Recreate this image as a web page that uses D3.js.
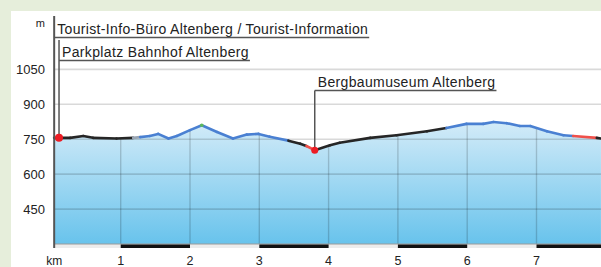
<!DOCTYPE html>
<html>
<head>
<meta charset="utf-8">
<script src="https://cdn.jsdelivr.net/npm/d3@7"></script>
<style>
	body { margin: 0; background: #e6eedb; }
	svg { display: block; }
	text { font-family: "Liberation Sans", Arial, sans-serif; fill: #222; }
</style>
</head>
<body>
<script>
// elevation profile, km along the route and metres above sea level
let profileKm = [0.04, 0.27, 0.46, 0.60, 0.94, 1.18, 1.28, 1.42, 1.54, 1.69, 1.81, 2.00, 2.17, 2.39,
	2.62, 2.82, 2.99, 3.15, 3.42, 3.59, 3.68, 3.80, 4.02, 4.16, 4.60, 4.98, 5.42, 5.70, 5.99,
	6.23, 6.38, 6.57, 6.76, 6.91, 7.15, 7.39, 7.53, 7.87, 7.93]
let profileElev = [756, 756, 764, 756, 753, 756, 759, 764, 773, 753, 764, 789, 810, 781,
	753, 770, 773, 761, 744, 731, 721, 703, 724, 735, 756, 767, 784, 798, 816,
	816, 824, 819, 807, 807, 784, 767, 764, 756, 753]
// gradient class of each segment between two profile points
let segmentClass = [
	'flat', 'flat', 'flat', 'flat', 'flat', 'mild',
	'mid', 'mid', 'mid', 'mid', 'mid', 'mid', 'mid', 'mid', 'mid', 'mid', 'mid', 'mid',
	'flat', 'flat', 'steep',
	'flat', 'flat', 'flat', 'flat', 'flat', 'flat',
	'mid', 'mid', 'mid', 'mid', 'mid', 'mid', 'mid', 'mid', 'mid',
	'steep', 'flat']

let waypointNames = ['Tourist-Info-Büro Altenberg / Tourist-Information', 'Parkplatz Bahnhof Altenberg', 'Bergbaumuseum Altenberg']
let waypointKm = [0.04, 0.11, 3.80]
let waypointElev = [756, 756, 703]

let yTicks = [450, 600, 750, 900, 1050]
let xTicks = [1, 2, 3, 4, 5, 6, 7]

let width = 601, height = 267

let svg = d3.select('body').append('svg')
	.attr('width', width).attr('height', height)

svg.append('rect')
	.attr('x', 11).attr('y', 11)
	.attr('width', width - 11).attr('height', height - 11)
	.attr('fill', '#fff')

let x = d3.scaleLinear().domain([0, 8]).range([51.4, 51.4 + 8 * 69.3])
let y = d3.scaleLinear().domain([300, 1050]).range([244, 69.4])

let baseY = y(300)
let axisX = x(profileKm[0])

let defs = svg.append('defs')
let grad = defs.append('linearGradient')
	.attr('id', 'fillGrad')
	.attr('gradientUnits', 'userSpaceOnUse')
	.attr('x1', 0).attr('x2', 0)
	.attr('y1', y(d3.max(profileElev))).attr('y2', baseY)
grad.append('stop').attr('offset', 0).attr('stop-color', '#d3ebf8')
grad.append('stop').attr('offset', 1).attr('stop-color', '#68c3ec')

let points = profileKm.map((k, i) => [k, profileElev[i]])

let area = d3.area()
	.x(d => x(d[0]))
	.y0(baseY)
	.y1(d => y(d[1]))

defs.append('clipPath').attr('id', 'areaClip')
	.append('path').attr('d', area(points))

svg.append('path')
	.attr('d', area(points))
	.attr('fill', 'url(#fillGrad)')

// horizontal grid
svg.append('g').selectAll('line')
	.data(yTicks)
	.join('line')
	.attr('x1', axisX).attr('x2', width)
	.attr('y1', d => y(d)).attr('y2', d => y(d))
	.attr('stroke', 'rgba(0,0,0,0.15)').attr('stroke-width', 1.6)

// vertical grid, only under the profile
svg.append('g').attr('clip-path', 'url(#areaClip)')
	.selectAll('line')
	.data(xTicks)
	.join('line')
	.attr('x1', d => x(d)).attr('x2', d => x(d))
	.attr('y1', y(1050)).attr('y2', baseY)
	.attr('stroke', 'rgba(0,0,0,0.17)').attr('stroke-width', 1.4)

// km bar below the baseline
svg.append('rect')
	.attr('x', axisX).attr('y', baseY)
	.attr('width', width - axisX).attr('height', 4)
	.attr('fill', '#ececec')
svg.append('line')
	.attr('x1', axisX).attr('x2', width)
	.attr('y1', baseY).attr('y2', baseY)
	.attr('stroke', '#9a9a9a').attr('stroke-width', 1)
svg.append('g').selectAll('rect')
	.data(xTicks.filter(d => d % 2 == 1))
	.join('rect')
	.attr('x', d => x(d)).attr('y', baseY + 0.5)
	.attr('width', x(1) - x(0)).attr('height', 3.5)
	.attr('fill', '#111')

// profile line, coloured by gradient class
let lineColor = d3.scaleOrdinal()
	.domain(['flat', 'mild', 'mid', 'steep'])
	.range(['#262626', '#9aa6b4', '#4a80d2', '#f0504a'])

let segs = segmentClass.map((c, i) => ({ a: points[i], b: points[i + 1], c: c }))
svg.append('g').selectAll('line')
	.data(segs)
	.join('line')
	.attr('x1', d => x(d.a[0])).attr('y1', d => y(d.a[1]))
	.attr('x2', d => x(d.b[0])).attr('y2', d => y(d.b[1]))
	.attr('stroke', d => lineColor(d.c))
	.attr('stroke-width', 2.6)
	.attr('stroke-linecap', 'round')

// peak mark
let peakI = d3.maxIndex(profileElev.slice(0, 20))
svg.append('circle')
	.attr('cx', x(profileKm[peakI])).attr('cy', y(profileElev[peakI]))
	.attr('r', 1.8).attr('fill', '#5cb85c')

// y axis
svg.append('line')
	.attr('x1', axisX).attr('x2', axisX)
	.attr('y1', 16).attr('y2', baseY + 4)
	.attr('stroke', '#555').attr('stroke-width', 2)

svg.append('g').selectAll('text')
	.data(yTicks)
	.join('text')
	.attr('x', 45).attr('y', d => y(d))
	.attr('dy', '0.35em')
	.attr('text-anchor', 'end')
	.style('font-size', '13px')
	.text(d => d)

svg.append('text')
	.attr('x', 45).attr('y', 27)
	.attr('text-anchor', 'end')
	.style('font-size', '11px')
	.text('m')

svg.append('g').selectAll('text')
	.data(xTicks)
	.join('text')
	.attr('x', d => x(d)).attr('y', 264.5)
	.attr('text-anchor', 'middle')
	.style('font-size', '12.5px')
	.text(d => d)

svg.append('text')
	.attr('x', axisX).attr('y', 264.5)
	.attr('text-anchor', 'middle')
	.style('font-size', '12px')
	.text('km')

// waypoint labels
let labelTop = [17, 40, 70]
let labels = svg.append('g')
waypointNames.forEach((name, i) => {
	let wx = x(waypointKm[i])
	let top = labelTop[i]
	let t = labels.append('text')
		.attr('x', wx + 3).attr('y', top + 17)
		.style('font-size', '14px')
		.style('letter-spacing', '0.35px')
		.text(name)
	let w = t.node().getComputedTextLength()
	labels.append('line')
		.attr('x1', wx).attr('x2', wx + w + 4)
		.attr('y1', top + 20.5).attr('y2', top + 20.5)
		.attr('stroke', '#555').attr('stroke-width', 1.5)
	if (i > 0) {
		labels.append('line')
			.attr('x1', wx).attr('x2', wx)
			.attr('y1', i == 1 ? top : top + 20.5).attr('y2', y(waypointElev[i]))
			.attr('stroke', '#555').attr('stroke-width', 1.5)
	}
	if (i > 0) {
		labels.append('circle')
			.attr('cx', wx).attr('cy', y(waypointElev[i]))
			.attr('r', i == 1 ? 4 : 3.5)
			.attr('fill', '#ec1c24')
	}
})
</script>
</body>
</html>
